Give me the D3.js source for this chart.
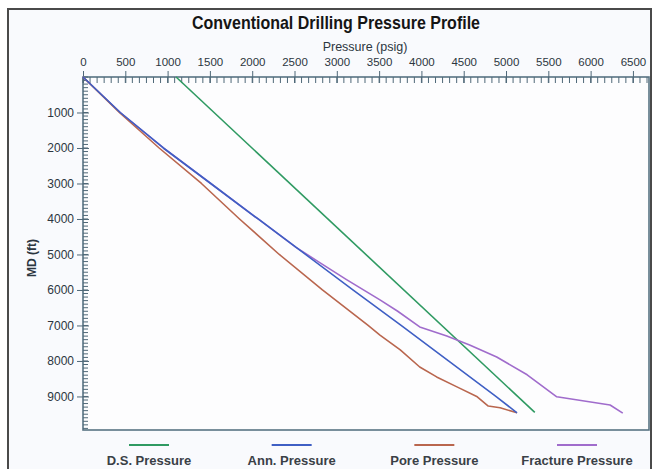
<!DOCTYPE html>
<html><head><meta charset="utf-8">
<script src="https://cdn.jsdelivr.net/npm/d3@7"></script>
<style>body{margin:0;background:#fff}svg{display:block;font-family:"Liberation Sans",Arial,sans-serif}</style>
</head><body><svg id="c" width="658" height="469"></svg>
<script>
// Data: [MD ft, pressure psig]
const dsPressure = [[0,1100],[9450,5340]];
const annPressure = [[0,0],[1000,440],[2000,950],[3000,1510],[4000,2070],[5000,2630],[6000,3190],[7000,3760],[8000,4320],[9000,4880],[9460,5130]];
const porePressure = [[0,0],[1000,430],[2000,900],[3000,1400],[4000,1850],[5000,2320],[6000,2830],[7000,3370],[7270,3510],[7690,3750],[8170,3980],[8450,4180],[8730,4420],[9010,4660],[9270,4790],[9320,4930],[9460,5130]];
const fracturePressure = [[0,0],[1000,440],[2000,950],[3000,1510],[4000,2070],[4800,2518],[5200,2780],[5700,3110],[6280,3510],[6600,3720],[7040,3980],[7300,4300],[7550,4570],[7890,4890],[8390,5250],[9010,5600],[9240,6230],[9470,6380]];
const seriesNames = ["D.S. Pressure","Ann. Pressure","Pore Pressure","Fracture Pressure"];
const xTicks = [0,500,1000,1500,2000,2500,3000,3500,4000,4500,5000,5500,6000,6500];
const yTicks = [1000,2000,3000,4000,5000,6000,7000,8000,9000];

const colors = ["#2f9a62","#3f5fc4","#b9664e","#a06ccc"];
const seriesData = [dsPressure, annPressure, porePressure, fracturePressure].map(s=>s.map(d=>({md:d[0],p:d[1]})));

const svg = d3.select("#c");
svg.append("rect").attr("x",8).attr("y",9).attr("width",643).attr("height",470)
  .attr("fill","#f9fafd").attr("stroke","#4a4a4a").attr("stroke-width",2);

const L=83, R=649, T=77, B=430;
const x = d3.scaleLinear().domain([0,6690]).range([L,R]);
const y = d3.scaleLinear().domain([0,9945]).range([T,B]);

svg.append("rect").attr("x",L).attr("y",T).attr("width",R-L).attr("height",B-T)
  .attr("fill","#fdfdfe").attr("stroke","#587383").attr("stroke-width",1.6);

svg.append("text").attr("x",336).attr("y",29).attr("text-anchor","middle")
  .attr("font-size",18.5).attr("font-weight","bold").attr("fill","#151515")
  .attr("textLength",288).attr("lengthAdjust","spacingAndGlyphs")
  .text("Conventional Drilling Pressure Profile");
svg.append("text").attr("x",365).attr("y",51).attr("text-anchor","middle")
  .attr("font-size",12.5).attr("fill","#2c3640").text("Pressure (psig)");
svg.append("text").attr("transform","translate(36,258) rotate(-90)").attr("text-anchor","middle")
  .attr("font-size",12).attr("font-weight","bold").attr("fill","#2c3640").text("MD (ft)");

const axisColor="#4f6878";
const xMinor = d3.range(0,6690,500/6);
const gx = svg.append("g").attr("transform",`translate(0,${T})`);
gx.selectAll("line.mn").data(xMinor).join("line")
  .attr("x1",d=>x(d)).attr("x2",d=>x(d)).attr("y1",0).attr("y2",6)
  .attr("stroke",axisColor).attr("stroke-width",1);
const xAxis = d3.axisTop(x).tickValues(xTicks).tickSizeInner(6).tickSizeOuter(0).tickFormat(d3.format("d"));
gx.call(xAxis);
gx.select(".domain").remove();
gx.selectAll(".tick line").attr("stroke",axisColor).attr("y2",-6).clone().attr("y2",6);
gx.selectAll(".tick text").attr("font-size",11.5).attr("fill","#2c3640").attr("dy","-2")
  .attr("font-family","'Liberation Sans',Arial,sans-serif");

const yMinor = d3.range(0,9945,100);
const gy = svg.append("g").attr("transform",`translate(${L},0)`);
gy.selectAll("line.mn").data(yMinor).join("line")
  .attr("y1",d=>y(d)).attr("y2",d=>y(d)).attr("x1",0).attr("x2",5)
  .attr("stroke",axisColor).attr("stroke-width",1);
const yAxis = d3.axisLeft(y).tickValues(yTicks).tickSizeInner(6).tickSizeOuter(0).tickFormat(d3.format("d"));
gy.call(yAxis);
gy.select(".domain").remove();
gy.selectAll(".tick line").attr("stroke",axisColor).clone().attr("x2",6);
gy.selectAll(".tick text").attr("font-size",12).attr("fill","#2c3640")
  .attr("font-family","'Liberation Sans',Arial,sans-serif");

const line = d3.line().x(d=>x(d.p)).y(d=>y(d.md));
[0,3,2,1].forEach(i=>{
  svg.append("path").datum(seriesData[i]).attr("d",line).attr("fill","none")
    .attr("stroke",colors[i]).attr("stroke-width",1.6).attr("stroke-linejoin","round");
});

const legX = d3.scalePoint().domain(seriesNames).range([149,577]);
const leg = svg.append("g");
seriesNames.forEach((n,i)=>{
  const cx = legX(n);
  leg.append("line").attr("x1",cx-20).attr("x2",cx+20).attr("y1",445).attr("y2",445)
    .attr("stroke",colors[i]).attr("stroke-width",2);
  leg.append("text").attr("x",cx).attr("y",465).attr("text-anchor","middle")
    .attr("font-size",13).attr("font-weight","bold").attr("fill","#3a4046").text(n);
});
</script></body></html>
